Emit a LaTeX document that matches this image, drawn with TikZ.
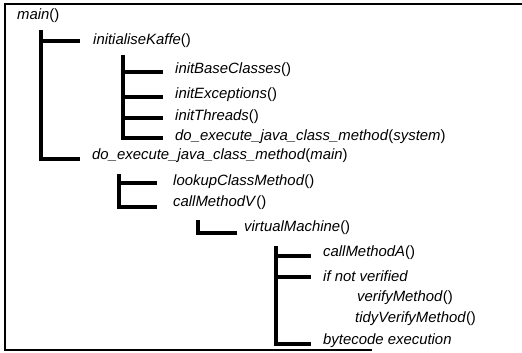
\documentclass[tikz,border=0pt]{standalone}
\usepackage{fontspec}
\setmainfont{Liberation Sans}
% function name and argument in italics, parentheses upright
\newcommand\fncall[2]{\textit{#1}(\textit{#2})}
\begin{document}
\begin{tikzpicture}[x=1pt,y=-1pt,
  txt/.style={anchor=west, inner sep=0pt, font=\fontsize{14.9}{16}\selectfont},
  tree/.style={line width=3.1pt, line cap=butt, line join=miter},
  frame/.style={line width=1.4pt}]
\useasboundingbox (0,0) rectangle (522,353);
% open frame: top, left and part of the bottom edge
\draw[frame] (522,4) -- (5,4) -- (5,350) -- (372,350);

% call tree entries
\node[txt] (main)   at (17,16)  {\fncall{main}{}};
\node[txt] (kaffe)  at (93,41)  {\fncall{initialiseKaffe}{}};
\node[txt] (base)   at (175,70) {\fncall{initBaseClasses}{}};
\node[txt] (exc)    at (175,95) {\fncall{initExceptions}{}};
\node[txt] (thr)    at (175,117){\fncall{initThreads}{}};
\node[txt] (dosys)  at (175,137){\fncall{do\_execute\_java\_class\_method}{system}};
\node[txt] (domain) at (92,156) {\fncall{do\_execute\_java\_class\_method}{main}};
\node[txt] (lookup) at (173,182){\fncall{lookupClassMethod}{}};
\node[txt] (callv)  at (173,203){\fncall{callMethodV}{}};
\node[txt] (vm)     at (244,228){\fncall{virtualMachine}{}};
\node[txt] (calla)  at (323,253){\fncall{callMethodA}{}};
\node[txt] (ifnv)   at (323,276){\textit{if not verified}};
\node[txt] (verify) at (357,298){\fncall{verifyMethod}{}};
\node[txt] (tidy)   at (355,319){\fncall{tidyVerifyMethod}{}};
\node[txt] (bytec)  at (323,341){\textit{bytecode execution}};

% tops of the bracket lines
\coordinate (t1) at (41,30);
\coordinate (t2) at (123,55);
\coordinate (t3) at (119,174);
\coordinate (t4) at (198,220);
\coordinate (t5) at (276,246);

% main()
\draw[tree] (t1 |- kaffe.west) -- ([xshift=-13pt]kaffe.west);
\draw[tree] (t1) |- ([xshift=-12pt,yshift=-3pt]domain.west);
% initialiseKaffe()
\draw[tree] (t2 |- base.west) ++(0,2) -- ([xshift=-12pt,yshift=-2pt]base.west);
\draw[tree] (t2 |- exc.west) ++(0,2) -- ([xshift=-12pt,yshift=-2pt]exc.west);
\draw[tree] (t2 |- thr.west) ++(0,1) -- ([xshift=-12pt,yshift=-1pt]thr.west);
\draw[tree] (t2) |- ([xshift=-12pt,yshift=-1pt]dosys.west);
% do_execute_java_class_method(main)
\draw[tree] (t3 |- lookup.west) ++(0,1) -- ([xshift=-16pt,yshift=-1pt]lookup.west);
\draw[tree] (t3) |- ([xshift=-16pt,yshift=-4pt]callv.west);
% callMethodV()
\draw[tree] (t4) |- ([xshift=-7pt,yshift=-5pt]vm.west);
% virtualMachine()
\draw[tree] (t5 |- calla.west) ++(0,3) -- ([xshift=-12pt,yshift=-3pt]calla.west);
\draw[tree] (t5 |- ifnv.west) ++(0,1) -- ([xshift=-12pt,yshift=-1pt]ifnv.west);
\draw[tree] (t5) |- ([xshift=-12pt,yshift=-3pt]bytec.west);
\end{tikzpicture}
\end{document}
